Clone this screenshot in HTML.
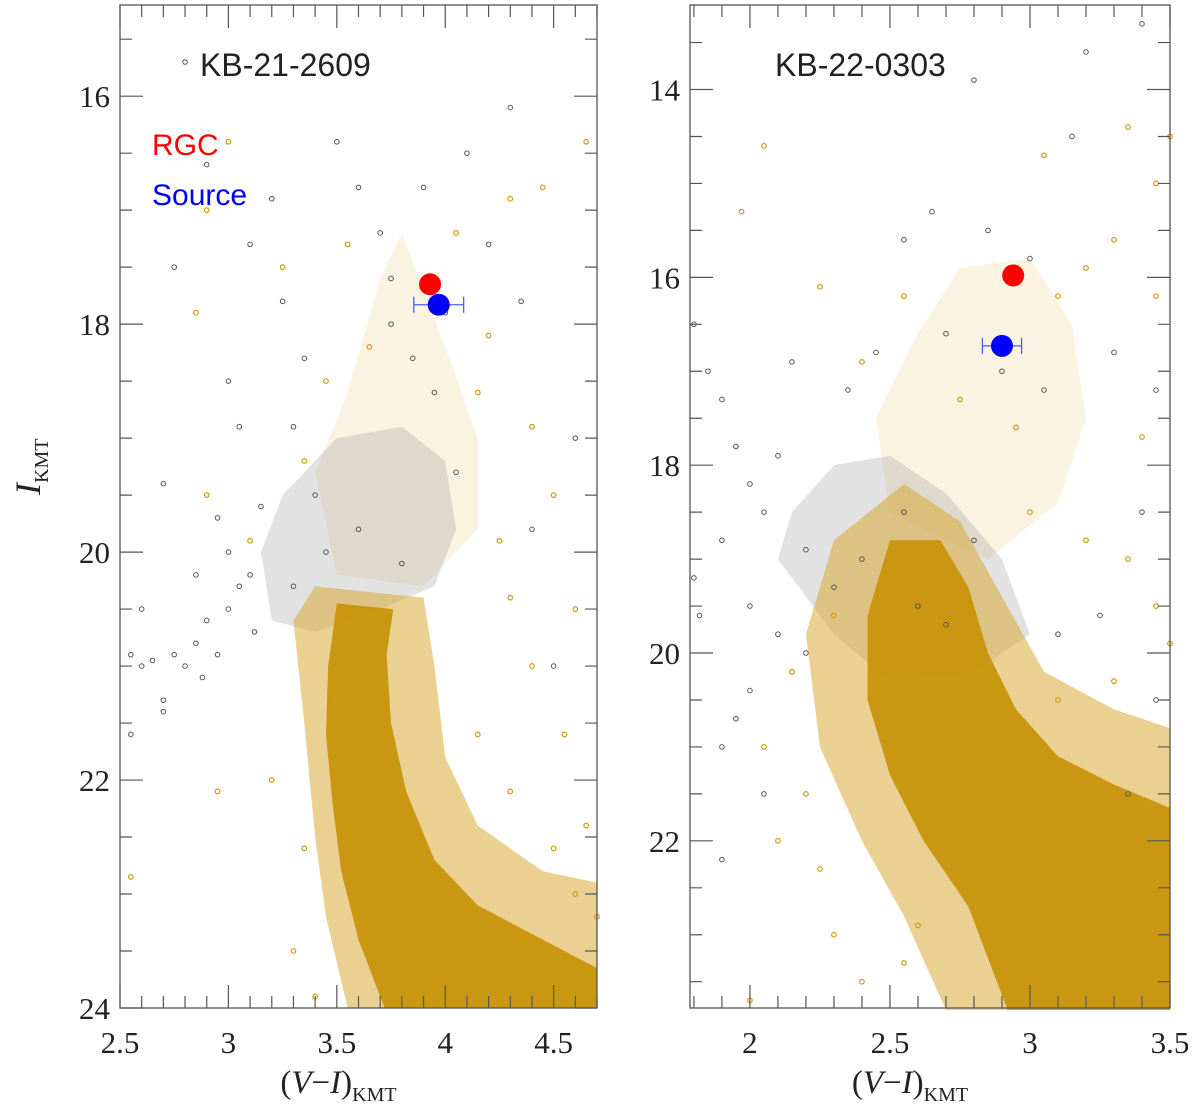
<!DOCTYPE html>
<html><head><meta charset="utf-8"><style>
html,body{margin:0;padding:0;background:#fff;}
svg{display:block;font-family:"Liberation Serif",serif;}
</style></head><body>
<svg id="chart" width="1200" height="1113" viewBox="0 0 1200 1113">
<g id="L"></g>
<g id="R"></g>
</svg>
<script>
// ---------- data (left panel: KB-21-2609) ----------
const leftHalo = [[3.40,20.3],[3.30,20.6],[3.35,21.5],[3.40,22.5],[3.45,23.2],[3.55,24.0],[4.70,24.0],[4.70,22.9],[4.45,22.8],[4.15,22.4],[4.0,21.8],[3.95,21.0],[3.9,20.4]];
const leftCore = [[3.50,20.45],[3.46,21.0],[3.45,21.6],[3.48,22.2],[3.52,22.8],[3.60,23.4],[3.72,24.0],[4.70,24.0],[4.70,23.65],[4.45,23.4],[4.15,23.1],[3.95,22.7],[3.82,22.1],[3.75,21.5],[3.73,20.9],[3.76,20.5]];
const leftGrayCloud = [[3.25,19.5],[3.15,20.0],[3.2,20.6],[3.4,20.7],[3.7,20.5],[3.95,20.3],[4.05,19.8],[4.0,19.2],[3.8,18.9],[3.5,19.0]];
const leftOrangeCloud = [[3.55,18.6],[3.4,19.3],[3.5,20.2],[3.9,20.3],[4.15,19.8],[4.15,19.0],[4.0,18.2],[3.8,17.2],[3.7,17.6]];
const leftGray = [[2.55,21.6],[2.6,21.0],[2.7,21.3],[2.75,20.9],[2.8,21.0],[2.85,20.8],[2.9,20.6],[2.95,20.9],[3.0,20.5],[3.05,20.3],[3.1,20.2],[3.0,20.0],[2.95,19.7],[3.15,19.6],[2.7,21.4],[2.65,20.95],[2.88,21.1],[3.12,20.7],[2.55,20.9],[2.8,15.7],[2.9,16.6],[3.1,17.3],[3.25,17.8],[3.35,18.3],[3.5,16.4],[3.6,16.8],[3.7,17.2],[3.75,17.6],[3.9,16.8],[4.1,16.5],[4.3,16.1],[4.35,17.8],[4.2,17.3],[3.85,18.3],[3.95,18.6],[4.4,19.8],[4.6,19.0],[3.3,18.9],[3.05,18.9],[3.3,20.3],[3.45,20.0],[3.6,19.8],[3.8,20.1],[4.05,19.3],[3.4,19.5],[2.75,17.5],[3.0,18.5],[4.5,21.0],[2.7,19.4],[2.85,20.2],[2.6,20.5],[3.2,16.9],[4.0,17.9],[3.75,18.0]];
const leftOrange = [[2.85,17.9],[2.9,17.0],[3.0,16.4],[3.25,17.5],[3.45,18.5],[3.35,19.2],[4.3,16.9],[4.45,16.8],[4.65,16.4],[4.2,18.1],[4.4,18.9],[4.5,19.5],[4.6,20.5],[4.4,21.0],[4.55,21.6],[4.3,22.1],[4.65,22.4],[3.2,22.0],[2.95,22.1],[2.55,22.85],[3.35,22.6],[3.3,23.5],[4.15,21.6],[4.3,20.4],[3.1,19.9],[2.9,19.5],[4.05,17.2],[4.15,18.6],[3.55,17.3],[3.65,18.2],[4.25,19.9],[4.6,23.0],[4.5,22.6],[3.4,23.9],[3.5,21.3],[4.7,23.2]];
const leftRGC = [3.93,17.65];
const leftSrc = [3.97,17.83];
const leftSrcErr = [0.115];

// ---------- data (right panel: KB-22-0303) ----------
const rightHalo = [[2.30,18.8],[2.2,19.8],[2.25,21.0],[2.4,22.0],[2.55,22.8],[2.7,23.8],[3.5,23.8],[3.5,20.8],[3.3,20.6],[3.05,20.2],[2.9,19.4],[2.75,18.6],[2.55,18.2]];
const rightCore = [[2.50,18.8],[2.42,19.6],[2.42,20.5],[2.5,21.3],[2.62,22.0],[2.78,22.7],[2.92,23.8],[3.5,23.8],[3.5,21.65],[3.3,21.4],[3.1,21.1],[2.95,20.6],[2.85,20.0],[2.78,19.3],[2.68,18.8]];
const rightGrayCloud = [[2.15,18.5],[2.1,19.0],[2.3,19.8],[2.5,20.3],[2.8,20.2],[3.0,19.8],[2.9,19.0],[2.7,18.3],[2.5,17.9],[2.3,18.0]];
const rightOrangeCloud = [[2.45,17.5],[2.5,18.5],[2.85,19.0],[3.1,18.4],[3.2,17.5],[3.15,16.5],[3.0,15.8],[2.75,15.9],[2.6,16.6]];
const rightGray = [[1.8,16.5],[1.85,17.0],[1.9,17.3],[1.95,17.8],[2.0,18.2],[2.05,18.5],[1.9,18.8],[1.8,19.2],[2.0,19.5],[2.1,19.8],[2.2,20.0],[2.0,20.4],[1.95,20.7],[1.9,21.0],[2.05,21.5],[2.35,17.2],[2.45,16.8],[2.55,15.6],[2.65,15.3],[2.85,15.5],[3.0,15.8],[3.15,14.5],[3.4,13.3],[3.2,13.6],[2.8,13.9],[2.9,17.0],[3.05,17.2],[2.7,16.6],[3.3,16.8],[3.45,17.2],[3.4,18.5],[3.25,19.6],[3.1,19.8],[3.45,20.5],[3.35,21.5],[2.2,18.9],[2.3,19.3],[2.4,19.0],[2.6,19.5],[2.7,19.7],[1.82,19.6],[2.1,17.9],[2.15,16.9],[2.55,18.5],[2.8,18.8],[1.9,22.2]];
const rightOrange = [[1.97,15.3],[2.05,14.6],[2.25,16.1],[2.4,16.9],[2.55,16.2],[2.75,17.3],[2.95,17.6],[3.1,16.2],[3.2,15.9],[3.3,15.6],[3.35,14.4],[3.45,15.0],[3.5,14.5],[3.0,18.5],[3.2,18.8],[3.35,19.0],[3.45,19.5],[3.3,20.3],[3.1,20.5],[2.05,21.0],[2.1,22.0],[2.25,22.3],[2.3,23.0],[2.4,23.5],[2.55,23.3],[2.15,20.2],[2.3,19.6],[3.4,17.7],[3.45,16.2],[3.05,14.7],[2.0,23.7],[2.6,22.9],[2.2,21.5],[3.5,19.9]];
const rightRGC = [2.94,15.98];
const rightSrc = [2.90,16.73];
const rightSrcErr = [0.07];

const NS="http://www.w3.org/2000/svg";
function el(t,a,p){const e=document.createElementNS(NS,t);for(const k in a)e.setAttribute(k,a[k]);p.appendChild(e);return e;}

function panel(g,cfg){
  const sx=v=>cfg.x0+(v-cfg.xmin)/(cfg.xmax-cfg.xmin)*(cfg.x1-cfg.x0);
  const sy=v=>cfg.y0+(v-cfg.ymin)/(cfg.ymax-cfg.ymin)*(cfg.y1-cfg.y0);
  const poly=(pts,fill,op,name)=>{
    const p=el('polygon',{points:pts.map(d=>sx(d[0])+','+sy(d[1])).join(' '),fill:fill,'fill-opacity':op},g);
    
    
  };
  poly(cfg.orangeCloud,'#d9a520',0.13,'orange-star-cloud');
  poly(cfg.grayCloud,'#8a8a8a',0.25,'gray-star-cloud');
  poly(cfg.halo,'#d6a326',0.5,'orange-sequence-halo');
  poly(cfg.core,'#c8940c',0.95,'orange-sequence-core');
  cfg.gray.forEach(d=>{
    const c=el('circle',{cx:sx(d[0]),cy:sy(d[1]),r:2.3,fill:'none',stroke:'#555',"stroke-width":1},g);
    
    
  });
  cfg.orange.forEach(d=>{
    const c=el('circle',{cx:sx(d[0]),cy:sy(d[1]),r:2.3,fill:'none',stroke:'#d09a10',"stroke-width":1.2},g);
    
    
  });
  const s=cfg.src,e=cfg.err[0];
  const eb=el('path',{d:`M${sx(s[0]-e)},${sy(s[1])}H${sx(s[0]+e)}M${sx(s[0]-e)},${sy(s[1])-8}v16M${sx(s[0]+e)},${sy(s[1])-8}v16`,stroke:'#4a5cff','stroke-width':1.3,fill:'none'},g);
  
  
  const rg=el('circle',{cx:sx(cfg.rgc[0]),cy:sy(cfg.rgc[1]),r:11,fill:'#ff0000'},g);
  
  
  const sc=el('circle',{cx:sx(s[0]),cy:sy(s[1]),r:11,fill:'#0000ff'},g);
  
  
  const fr=el('rect',{x:cfg.x0,y:cfg.y0,width:cfg.x1-cfg.x0,height:cfg.y1-cfg.y0,fill:'none',stroke:'#555','stroke-width':1.3},g);
  
  
  let d='';
  for(let i=Math.ceil(cfg.xmin*10-1e-6);i<=Math.floor(cfg.xmax*10+1e-6);i++){
    const v=i/10,x=sx(v),L=(i%5===0)?23:12;
    d+=`M${x},${cfg.y1}v${-L}M${x},${cfg.y0}v${L}`;
  }
  for(let i=Math.ceil(cfg.ymin*2-1e-6);i<=Math.floor(cfg.ymax*2+1e-6);i++){
    const v=i/2,y=sy(v),L=(i%4===0)?23:12;
    d+=`M${cfg.x0},${y}h${L}M${cfg.x1},${y}h${-L}`;
  }
  const tk=el('path',{d:d,stroke:'#555','stroke-width':1.2,fill:'none'},g);
  
  
  cfg.xt.forEach(v=>{
    const t=el('text',{x:sx(v),y:1053,'text-anchor':'middle','font-size':31,fill:'#222'},g);
    t.textContent=String(v);
    
    
  });
  cfg.yt.forEach(v=>{
    const t=el('text',{x:cfg.x0-10,y:sy(v)+11,'text-anchor':'end','font-size':31,fill:'#222'},g);
    t.textContent=String(v);
    
    
  });
  const ti=el('text',{x:cfg.titleX,y:76,'font-size':32,fill:'#222','font-family':'Liberation Sans, sans-serif'},g);
  ti.textContent=cfg.title;
  
  
  const xl=el('text',{x:(cfg.x0+cfg.x1)/2-20,y:1093,'text-anchor':'middle','font-size':33,fill:'#222'},g);
  xl.innerHTML='(<tspan font-style="italic">V</tspan>−<tspan font-style="italic">I</tspan>)<tspan font-size="20" dy="8">KMT</tspan>';
  
  
}

panel(document.getElementById('L'),{x0:120,x1:597,y0:5,y1:1008,xmin:2.5,xmax:4.7,ymin:15.2,ymax:24,
  halo:leftHalo,core:leftCore,grayCloud:leftGrayCloud,orangeCloud:leftOrangeCloud,gray:leftGray,orange:leftOrange,
  rgc:leftRGC,src:leftSrc,err:leftSrcErr,xt:[2.5,3,3.5,4,4.5],yt:[16,18,20,22,24],title:'KB-21-2609',titleX:200});
panel(document.getElementById('R'),{x0:690,x1:1170,y0:5,y1:1008,xmin:1.786,xmax:3.5,ymin:13.1,ymax:23.78,
  halo:rightHalo,core:rightCore,grayCloud:rightGrayCloud,orangeCloud:rightOrangeCloud,gray:rightGray,orange:rightOrange,
  rgc:rightRGC,src:rightSrc,err:rightSrcErr,xt:[2,2.5,3,3.5],yt:[14,16,18,20,22],title:'KB-22-0303',titleX:775});

const svg=document.getElementById('chart');
const lg1=el('text',{x:152,y:155,'font-size':30,fill:'#ff0000','font-family':'Liberation Sans, sans-serif'},svg);
lg1.textContent='RGC';


const lg2=el('text',{x:152,y:205,'font-size':30,fill:'#0000ff','font-family':'Liberation Sans, sans-serif'},svg);
lg2.textContent='Source';


const yl=el('text',{transform:'translate(40,495) rotate(-90)','font-size':36,fill:'#222'},svg);
yl.innerHTML='<tspan font-style="italic">I</tspan><tspan font-size="20" dy="8">KMT</tspan>';


</script>
</body></html>
